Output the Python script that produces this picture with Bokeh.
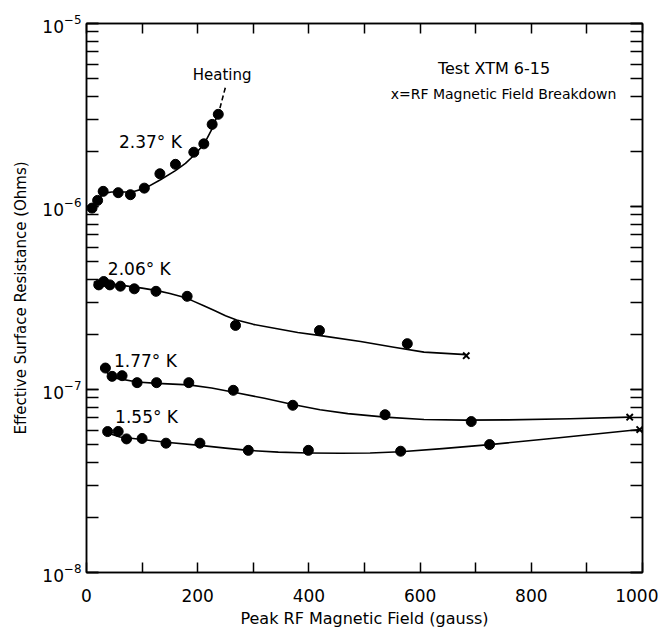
from bokeh.plotting import figure
from bokeh.models import LogAxis, LinearAxis, FixedTicker, LogTicker, Label, Range1d, CustomJSTickFormatter
from bokeh.embed import file_html
from bokeh.resources import INLINE

# ---- data ----
# 2.37 K
h237 = [10, 20, 30, 57, 79, 104, 132, 160, 193, 211, 226, 237]
r237 = [0.98e-6, 1.08e-6, 1.21e-6, 1.19e-6, 1.16e-6, 1.26e-6, 1.51e-6, 1.70e-6, 1.98e-6, 2.20e-6, 2.81e-6, 3.19e-6]
fit237_h = [10, 20, 31, 45, 58, 82, 106, 133, 160, 178, 193, 211, 226, 238]
fit237_r = [0.97e-6, 1.09e-6, 1.18e-6, 1.20e-6, 1.20e-6, 1.20e-6, 1.26e-6, 1.40e-6, 1.57e-6, 1.72e-6, 1.90e-6, 2.18e-6, 2.66e-6, 3.30e-6]
heat_h = [240, 250]
heat_r = [3.45e-6, 4.5e-6]

# 2.06 K
h206 = [22, 31, 42, 61, 86, 125, 181, 268, 419, 577]
r206 = [3.73e-7, 3.89e-7, 3.73e-7, 3.67e-7, 3.55e-7, 3.44e-7, 3.23e-7, 2.24e-7, 2.10e-7, 1.78e-7]
fit206_h = [13, 61, 100, 127, 150, 170, 190, 210, 230, 250, 270, 300, 343, 380, 421, 493, 553, 607, 683]
fit206_r = [3.86e-7, 3.72e-7, 3.58e-7, 3.47e-7, 3.35e-7, 3.22e-7, 3.06e-7, 2.88e-7, 2.70e-7, 2.53e-7, 2.40e-7, 2.27e-7, 2.15e-7, 2.05e-7, 1.97e-7, 1.83e-7, 1.70e-7, 1.60e-7, 1.55e-7]
bd206_h = [683]
bd206_r = [1.53e-7]

# 1.77 K
h177 = [34, 46, 64, 91, 126, 184, 264, 371, 537, 692]
r177 = [1.31e-7, 1.18e-7, 1.19e-7, 1.09e-7, 1.09e-7, 1.09e-7, 9.9e-8, 8.2e-8, 7.28e-8, 6.68e-8]
fit177_h = [31, 40, 55, 91, 127, 184, 225, 265, 320, 371, 420, 470, 537, 607, 680, 757, 870, 977]
fit177_r = [1.30e-7, 1.21e-7, 1.15e-7, 1.10e-7, 1.08e-7, 1.06e-7, 1.02e-7, 9.66e-8, 8.95e-8, 8.28e-8, 7.75e-8, 7.38e-8, 7.06e-8, 6.85e-8, 6.80e-8, 6.82e-8, 6.92e-8, 7.06e-8]
bd177_h = [977]
bd177_r = [7.06e-8]

# 1.55 K
h155 = [38, 57, 72, 100, 143, 204, 291, 399, 565, 725]
r155 = [5.89e-8, 5.9e-8, 5.37e-8, 5.4e-8, 5.09e-8, 5.09e-8, 4.65e-8, 4.65e-8, 4.6e-8, 5.0e-8]
fit155_h = [30, 45, 60, 100, 143, 204, 250, 291, 345, 399, 457, 510, 565, 640, 725, 850, 995]
fit155_r = [5.95e-8, 5.7e-8, 5.5e-8, 5.33e-8, 5.15e-8, 4.95e-8, 4.78e-8, 4.65e-8, 4.55e-8, 4.5e-8, 4.48e-8, 4.5e-8, 4.57e-8, 4.75e-8, 5.0e-8, 5.45e-8, 6.05e-8]
bd155_h = [995]
bd155_r = [6.04e-8]

x_ticks = [0, 100, 200, 300, 400, 500, 600, 700, 800, 900, 1000]
x_tick_labels = {100: "", 300: "", 500: "", 700: "", 900: ""}

FONT = "DejaVu Sans"

p = figure(frame_width=556, frame_height=549, x_range=Range1d(0, 1000),
           y_range=Range1d(1e-8, 1e-5), y_axis_type="log",
           output_backend="svg", toolbar_location=None,
           min_border_left=86, min_border_top=23, min_border_right=16, min_border_bottom=10)
p.grid.visible = False
p.outline_line_color = "black"
p.outline_line_width = 1.5
p.background_fill_color = "white"
p.border_fill_color = "white"

xa = p.xaxis[0]
xa.ticker = FixedTicker(ticks=x_ticks)
xa.major_label_overrides = x_tick_labels
xa.axis_label = "Peak RF Magnetic Field (gauss)"
ya = p.yaxis[0]
ya.ticker = LogTicker(num_minor_ticks=10)
ya.axis_label = "Effective Surface Resistance (Ohms)"

for ax in (xa, ya):
    ax.axis_line_color = "black"
    ax.axis_line_width = 1.5
    ax.major_tick_out = 0
    ax.minor_tick_out = 0
    ax.major_tick_line_color = "black"
    ax.major_tick_line_width = 1.5
    ax.minor_tick_line_width = 1.5
    ax.major_label_text_font = FONT
    ax.major_label_text_font_size = "17px"
    ax.major_label_text_color = "black"
    ax.axis_label_text_font = FONT
    ax.axis_label_text_font_size = "16px"
    ax.axis_label_text_font_style = "normal"
    ax.axis_label_text_color = "black"
ya.axis_label_text_font_size = "15px"
xa.major_tick_in = 10
xa.minor_tick_line_color = None
xa.major_label_standoff = 16
xa.axis_label_standoff = 4
ya.major_tick_in = 12
ya.minor_tick_in = 12
ya.minor_tick_line_color = "black"
ya.major_label_standoff = 5
ya.axis_label_standoff = 9

blank = CustomJSTickFormatter(code="return ''")
top = LinearAxis(ticker=FixedTicker(ticks=x_ticks), formatter=blank,
                 major_tick_in=10, major_tick_out=0, minor_tick_line_color=None,
                 major_tick_line_width=1.5, axis_line_width=1.5, major_label_standoff=0)
right = LogAxis(ticker=LogTicker(num_minor_ticks=10), formatter=blank,
                major_tick_in=12, major_tick_out=0, minor_tick_in=12, minor_tick_out=0,
                major_tick_line_width=1.5, minor_tick_line_width=1.5,
                axis_line_width=1.5, major_label_standoff=0)
p.add_layout(top, "above")
p.add_layout(right, "right")

# curves
for hh, rr in ((fit237_h, fit237_r), (fit206_h, fit206_r), (fit177_h, fit177_r), (fit155_h, fit155_r)):
    p.line(hh, rr, line_color="black", line_width=1.6, line_join="round")
p.line(heat_h, heat_r, line_color="black", line_width=1.6, line_dash="5 3")

# points
for hh, rr in ((h237, r237), (h206, r206), (h177, r177), (h155, r155)):
    p.scatter(hh, rr, marker="circle", size=10, fill_color="black", line_color="black")

# breakdown crosses
for hh, rr in ((bd206_h, bd206_r), (bd177_h, bd177_r), (bd155_h, bd155_r)):
    p.scatter(hh, rr, marker="x", size=9, line_color="black", line_width=2)

def lab(x, y, t, size="17px", align="center"):
    p.add_layout(Label(x=x, y=y, text=t, text_font=FONT, text_font_size=size,
                       text_align=align, text_baseline="middle", text_color="black"))

lab(244, 5.2e-6, "Heating", "15px")
lab(115, 2.24e-6, "2.37° K")
lab(95, 4.56e-7, "2.06° K")
lab(106, 1.44e-7, "1.77° K")
lab(108, 7.06e-8, "1.55° K")
lab(733, 5.65e-6, "Test XTM 6-15", "16px")
lab(750, 4.13e-6, "x=RF Magnetic Field Breakdown", "14px")

open("out.html", "w").write(file_html(p, INLINE))
